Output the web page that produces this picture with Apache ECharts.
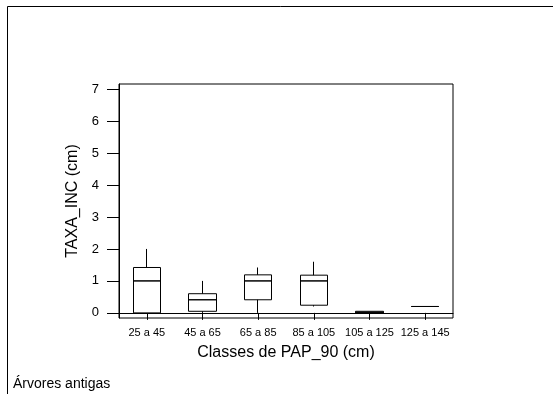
<!DOCTYPE html>
<html>
<head>
	<meta charset="UTF-8">
	<script type="text/javascript" src="https://cdn.jsdelivr.net/npm/echarts@6/dist/echarts.min.js"></script>
	<title></title>
	<style type="text/css">
		body{ margin:0; background:#fff; }
		#box{ width:553px; height:394px; }
	</style>
</head>
<body>
<div id="box"></div>
<script type="text/javascript">
// classes e valores
var classes = ['25 a 45', '45 a 65', '65 a 85', '85 a 105', '105 a 125', '125 a 145'];
var minimo  = [0,    0,    0,    0.2,  0,    0.2];
var q1      = [0,    0.05, 0.41, 0.24, 0,    0.2];
var mediana = [1.0,  0.41, 1.0,  1.0,  0.02, 0.2];
var q3      = [1.42, 0.6,  1.19, 1.18, 0.05, 0.2];
var maximo  = [2.0,  1.0,  1.42, 1.6,  0.05, 0.2];
var yTicks  = [0, 1, 2, 3, 4, 5, 6, 7];

// caixa + bigodes sem travessao (candlestick: [abertura, fecho, min, max])
var caixas = [];
var medianas = [];
for (var i = 0; i < classes.length; i++) {
	caixas.push([q1[i], q3[i], minimo[i], maximo[i]]);
	medianas.push([mediana[i], mediana[i], mediana[i], mediana[i]]);
}

var fonte = 'Liberation Sans, Arial, sans-serif';
var estilo = { color: '#fff', color0: '#fff', borderColor: '#000', borderColor0: '#000', borderWidth: 1 };
var chart = echarts.init(document.getElementById('box'));
var option = {
	animation: false,
	backgroundColor: '#fff',
	grid: {
		left: 119, top: 84, width: 334, height: 234,
		show: true, borderColor: '#000', borderWidth: 1
	},
	graphic: [
		{
			type: 'polyline',
			shape: { points: [[7.5, 394], [7.5, 6.5], [553, 6.5]] },
			style: { stroke: '#000', lineWidth: 1, fill: null }
		},
		{
			type: 'text', left: 13, top: 377,
			style: { text: 'Árvores antigas', fill: '#000', font: '14px ' + fonte }
		}
	],
	xAxis: {
		type: 'category',
		data: classes,
		boundaryGap: true,
		name: 'Classes de PAP_90 (cm)',
		nameLocation: 'middle',
		nameGap: 27,
		nameTextStyle: { color: '#000', fontSize: 16, fontFamily: fonte },
		axisLine: { show: true, lineStyle: { color: '#000' } },
		axisTick: { show: true, alignWithLabel: true, length: 7, lineStyle: { color: '#000' } },
		axisLabel: { color: '#000', fontSize: 11, fontFamily: fonte, margin: 9, interval: 0 },
		splitLine: { show: false }
	},
	yAxis: {
		type: 'value',
		min: -0.16,
		max: 7.16,
		name: 'TAXA_INC (cm)',
		nameLocation: 'middle',
		nameGap: 36,
		nameTextStyle: { color: '#000', fontSize: 16, fontFamily: fonte },
		axisLine: { show: true, lineStyle: { color: '#000' } },
		axisTick: { show: true, length: 12, customValues: yTicks, lineStyle: { color: '#000' } },
		axisLabel: { color: '#000', fontSize: 13, fontFamily: fonte, margin: 20, customValues: yTicks },
		splitLine: { show: false }
	},
	series: [
		{
			type: 'candlestick',
			data: caixas,
			barWidth: 28,
			itemStyle: estilo,
			emphasis: { disabled: true }
		},
		{
			type: 'candlestick',
			data: medianas,
			barWidth: 28,
			itemStyle: estilo,
			emphasis: { disabled: true }
		}
	]
};
chart.setOption(option);
</script>
</body>
</html>
